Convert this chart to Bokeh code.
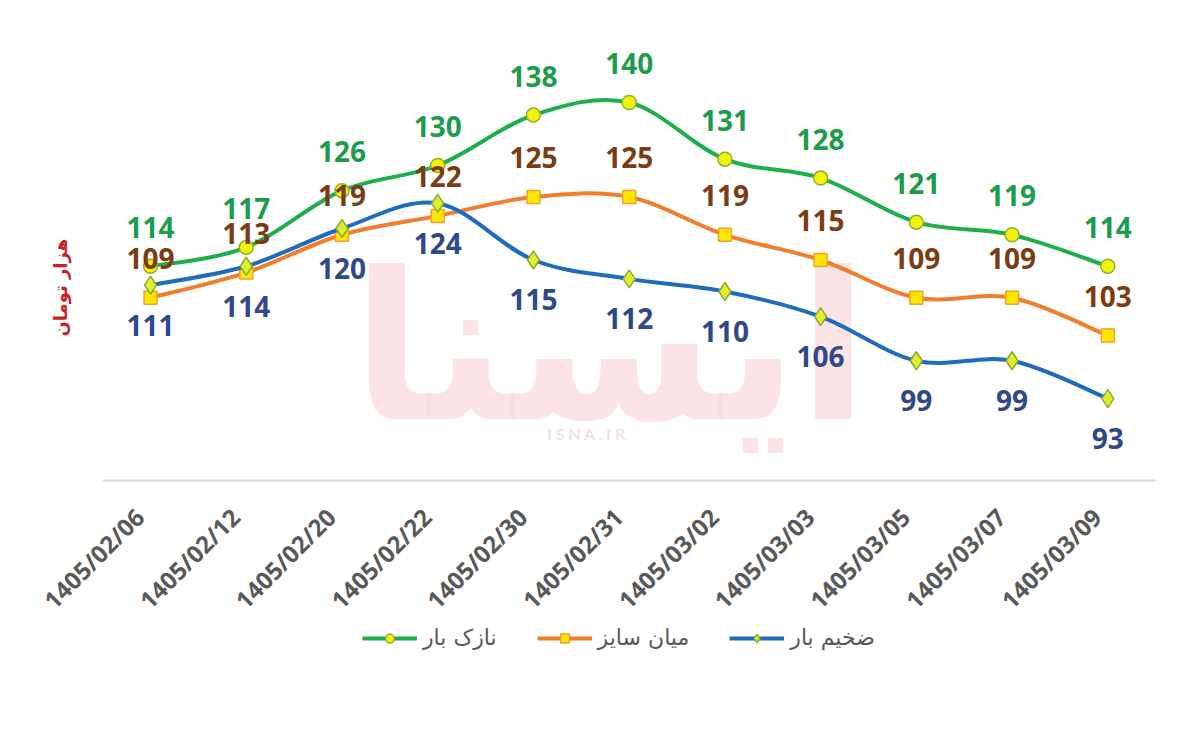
import math
from bokeh.plotting import figure
from bokeh.models import (Range1d, ColumnDataSource, LabelSet, Legend, LegendItem, Label)
from bokeh.core.properties import value
from bokeh.embed import file_html
from bokeh.resources import INLINE

dates = ["1405/02/06", "1405/02/12", "1405/02/20", "1405/02/22", "1405/02/30",
         "1405/02/31", "1405/03/02", "1405/03/03", "1405/03/05", "1405/03/07",
         "1405/03/09"]
thin = [114, 117, 126, 130, 138, 140, 131, 128, 121, 119, 114]      # نازک بار
medium = [109, 113, 119, 122, 125, 125, 119, 115, 109, 109, 103]    # میان سایز
thick = [111, 114, 120, 124, 115, 112, 110, 106, 99, 99, 93]        # ضخیم بار

names = ["نازک بار", "میان سایز", "ضخیم بار"]
y_title = "هزار تومان"
line_colors = ["#1fae4b", "#f07e2c", "#1f6cbc"]
label_colors = ["#1c9c4c", "#7a3c12", "#2e4888"]
marker_lines = ["#8fb030", "#f0a030", "#86ac32"]
marker_fills = ["#f2f20a", "#ffe600", "#e3ec2e"]
markers = ["circle", "square", "diamond"]
marker_sizes = [14, 13, 18]
offsets = [39, 39, -40]

xs = list(range(len(dates)))
Y_BASE = 80


def bezier_source(xv, yv):
    n = len(xv)
    d = dict(x0=[], y0=[], x1=[], y1=[], cx0=[], cy0=[], cx1=[], cy1=[])
    for i in range(n - 1):
        im = max(i - 1, 0)
        ip2 = min(i + 2, n - 1)
        d["x0"].append(xv[i]); d["y0"].append(yv[i])
        d["x1"].append(xv[i + 1]); d["y1"].append(yv[i + 1])
        d["cx0"].append(xv[i] + (xv[i + 1] - xv[im]) / 6.0)
        d["cy0"].append(yv[i] + (yv[i + 1] - yv[im]) / 6.0)
        d["cx1"].append(xv[i + 1] - (xv[ip2] - xv[i]) / 6.0)
        d["cy1"].append(yv[i + 1] - (yv[ip2] - yv[i]) / 6.0)
    return ColumnDataSource(d)


p = figure(frame_width=1195, frame_height=735, x_range=Range1d(-1.567, 10.916),
           y_range=Range1d(39.52, 156.19), output_backend="svg",
           toolbar_location=None, x_axis_type=None, y_axis_type=None,
           min_border=0)
p.outline_line_color = None
p.grid.visible = False
p.background_fill_color = "white"

# watermark (beneath the series)
p.add_layout(Label(x=4.8, y=101, text="ایسنا", text_font="DejaVu Sans",
                   text_font_style="bold", text_font_size="205px",
                   text_color="#fadadd", text_align="center",
                   text_baseline="middle", text_alpha=0.75, level="underlay"))
p.add_layout(Label(x=4.8, y=87.5, text="I   S   N   A   .   I   R", text_font="Lato",
                   text_font_style="bold", text_font_size="16px",
                   text_color="#efe2e3", text_align="center",
                   text_baseline="middle", level="underlay"))

# category axis line and rotated date labels
p.segment(x0=[xs[0] - 0.5], y0=[Y_BASE], x1=[xs[-1] + 0.5], y1=[Y_BASE],
          line_color="#d9d9d9", line_width=2)
p.text(x=xs, y=[Y_BASE] * len(xs), text=dates, angle=math.pi / 4,
       text_align="right", text_baseline="middle", x_offset=-11, y_offset=32,
       text_font=value("Open Sans"), text_font_style="bold",
       text_font_size=value("24px"), text_color="#595959")

# y axis title
p.add_layout(Label(x=-0.94, y=110.6, text=y_title, angle=math.pi / 2,
                   text_font="DejaVu Sans", text_font_style="bold",
                   text_font_size="18px", text_color="#c3212b",
                   text_align="center", text_baseline="middle"))

items = []
for k, series in enumerate([thin, medium, thick]):
    bsrc = bezier_source(xs, series)
    br = p.bezier(x0="x0", y0="y0", x1="x1", y1="y1", cx0="cx0", cy0="cy0",
                  cx1="cx1", cy1="cy1", source=bsrc, line_color=line_colors[k],
                  line_width=4)
    src = ColumnDataSource(dict(x=xs, y=series, t=[str(v) for v in series]))
    sr = p.scatter("x", "y", source=src, marker=markers[k], size=marker_sizes[k],
                   fill_color=marker_fills[k], line_color=marker_lines[k],
                   line_width=1.5)
    items.append(LegendItem(label=names[k], renderers=[br, sr]))
    p.add_layout(LabelSet(x="x", y="y", text="t", source=src, y_offset=offsets[k],
                          text_align="center", text_baseline="middle",
                          text_font=value("Open Sans"), text_font_style="bold",
                          text_font_size=value("28px"),
                          text_color=label_colors[k]))

legend = Legend(items=items, orientation="horizontal", location=(362, 85),
                label_text_font="DejaVu Sans", label_text_font_size="22px",
                label_text_color="#595959", glyph_width=55, glyph_height=22,
                label_standoff=6, spacing=40, border_line_color=None,
                background_fill_alpha=0, padding=2, margin=0)
p.add_layout(legend)

open("out.html", "w").write(file_html(p, INLINE))
